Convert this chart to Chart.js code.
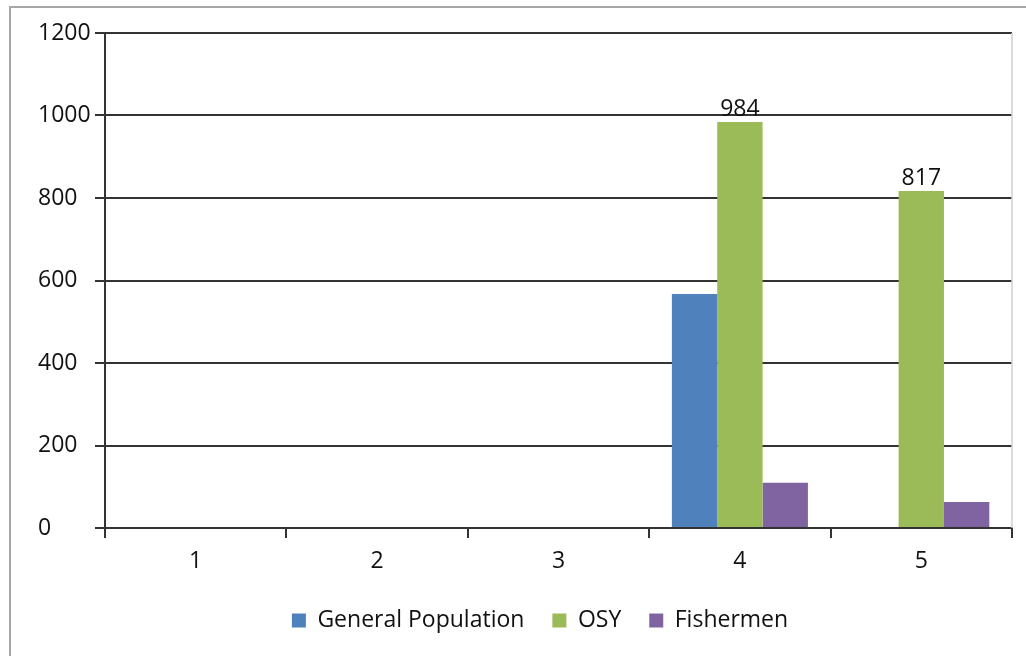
<!DOCTYPE html>
<html>
<head>
<meta charset="utf-8">
<script src="https://cdn.jsdelivr.net/npm/chart.js@4.4.0/dist/chart.umd.min.js"></script>
<style>
  html, body { margin: 0; padding: 0; background: #fff; }
  #frame {
    position: absolute; left: 9px; top: 6px; width: 1017px; height: 650px;
    border-left: 2px solid #a6a6a6; border-top: 2px solid #a6a6a6;
  }
  #wrap { position: absolute; left: 0; top: 0; width: 1026px; height: 656px; }
</style>
</head>
<body>
<div id="frame"></div>
<div id="wrap"><canvas id="chart"></canvas></div>
<script>
// Chart data
const categories = ['1', '2', '3', '4', '5'];
const generalPopulation = [null, null, null, 567, null];
const osy = [null, null, null, 984, 817];
const fishermen = [null, null, null, 110, 63];
const yTicks = [0, 200, 400, 600, 800, 1000, 1200];

const FONT = '"Open Sans", "DejaVu Sans", sans-serif';
const FONT_SIZE = 23;
const PLOT_BOTTOM = 528;
const PAD_BOTTOM = 14;
const PAD_LEFT = 38;

// Labels above the OSY bars
const valueLabels = {
  id: 'valueLabels',
  afterDatasetsDraw(chart) {
    const ctx = chart.ctx;
    const meta = chart.getDatasetMeta(1);
    ctx.save();
    ctx.font = FONT_SIZE + 'px ' + FONT;
    ctx.fillStyle = '#111';
    ctx.textAlign = 'center';
    ctx.textBaseline = 'alphabetic';
    meta.data.forEach((bar, i) => {
      const v = osy[i];
      if (v == null) return;
      ctx.fillText(String(v), bar.x, bar.y - 6);
    });
    ctx.restore();
  }
};

// Light border on the right of the plot area
const plotBorder = {
  id: 'plotBorder',
  beforeDatasetsDraw(chart) {
    const { ctx, chartArea } = chart;
    ctx.save();
    ctx.strokeStyle = '#d0d0d0';
    ctx.lineWidth = 1.5;
    ctx.beginPath();
    ctx.moveTo(chartArea.right, chartArea.top);
    ctx.lineTo(chartArea.right, chartArea.bottom);
    ctx.stroke();
    ctx.restore();
  }
};

// The original legend sits a little right of centre
const legendShift = {
  id: 'legendShift',
  afterLayout(chart) {
    const lg = chart.legend;
    if (!lg) return;
    lg.left += 15;
    lg.right += 15;
  }
};

const config = {
  type: 'bar',
  data: {
    labels: categories,
    datasets: [
      { label: 'General Population', data: generalPopulation, backgroundColor: '#4f81bd' },
      { label: 'OSY', data: osy, backgroundColor: '#9bbb59' },
      { label: 'Fishermen', data: fishermen, backgroundColor: '#8064a2' }
    ]
  },
  options: {
    responsive: true,
    maintainAspectRatio: false,
    animation: false,
    datasets: {
      bar: { categoryPercentage: 0.75, barPercentage: 1.0, borderWidth: 0 }
    },
    layout: { padding: { left: PAD_LEFT, right: 14, top: 33, bottom: PAD_BOTTOM } },
    plugins: {
      legend: {
        position: 'bottom',
        labels: {
          boxWidth: 14,
          boxHeight: 14,
          padding: 28,
          color: '#111',
          font: { family: FONT, size: FONT_SIZE }
        }
      },
      tooltip: { enabled: false }
    },
    scales: {
      x: {
        grid: {
          offset: true,
          drawOnChartArea: false,
          drawTicks: true,
          tickLength: 10,
          color: '#333',
          lineWidth: 2
        },
        border: { color: '#333', width: 2 },
        ticks: {
          color: '#111',
          padding: 10,
          font: { family: FONT, size: FONT_SIZE }
        },
        afterFit(scale) {
          const lg = scale.chart.legend;
          const lh = lg && lg.height ? lg.height : 62;
          scale.height = 656 - PLOT_BOTTOM - PAD_BOTTOM - lh;
        }
      },
      y: {
        min: 0,
        max: 1200,
        afterBuildTicks(scale) {
          scale.ticks = yTicks.map(v => ({ value: v }));
        },
        grid: {
          color: '#333',
          lineWidth: 2,
          tickLength: 10
        },
        border: { color: '#333', width: 2 },
        ticks: {
          color: '#111',
          padding: 5,
          crossAlign: 'far',
          font: { family: FONT, size: FONT_SIZE },
          callback: v => String(v)
        },
        afterFit(scale) { scale.width = 105 - PAD_LEFT; }
      }
    }
  },
  plugins: [valueLabels, plotBorder, legendShift]
};

new Chart(document.getElementById('chart'), config);
</script>
</body>
</html>
